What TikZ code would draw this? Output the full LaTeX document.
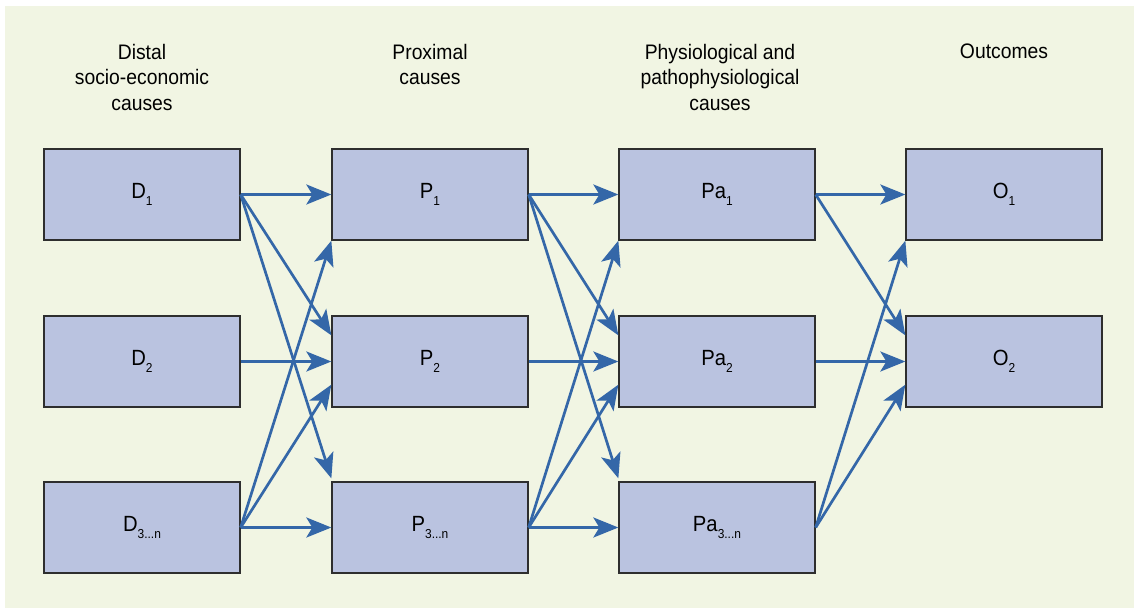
\documentclass[tikz,border=0pt]{standalone}
\usepackage{fontspec}
\setmainfont{Liberation Sans}[FakeStretch=0.92]
\usetikzlibrary{arrows.meta,positioning}
\definecolor{bgpanel}{HTML}{F1F5E3}
\definecolor{boxfill}{HTML}{BAC3E0}
\definecolor{boxline}{HTML}{2E2E2E}
\definecolor{flow}{HTML}{3467A8}
\newcommand{\lowidx}[1]{\raisebox{-7pt}{\fontsize{13}{13}\selectfont #1}}
\tikzset{
  stage/.style={draw=boxline, line width=1.3pt, fill=boxfill,
    minimum width=196pt, minimum height=91pt, inner sep=0pt,
    font=\fontsize{22}{24}\selectfont},
  heading/.style={anchor=north, align=center, inner sep=0pt,
    font=\fontsize{21}{25.5}\selectfont},
  link/.style={draw=flow, line width=2.7pt,
    -{Stealth[length=25pt, width=20pt, inset=6pt]}}
}
\begin{document}
\begin{tikzpicture}[x=1pt, y=-1pt]
  \useasboundingbox (0,0) rectangle (1134,608);
  \fill[white] (0,0) rectangle (1134,608);
  \fill[bgpanel] (5,6) rectangle (1134,608);

  % column headings
  \node[heading] (h1) at (142,44) {Distal\\socio-economic\\causes};
  \node[heading] (h2) at (430,44) {Proximal\\causes};
  \node[heading] (h3) at (720,44) {Physiological and\\pathophysiological\\causes};
  \node[heading] (h4) at (1004,44) {Outcomes};

  % boxes
  \node[stage] (D1) at (142,194.5) {D\lowidx{1}};
  \node[stage] (D2) at (142,361.5) {D\lowidx{2}};
  \node[stage] (D3) at (142,527.5) {D\lowidx{3...n}};
  \node[stage] (P1) at (430,194.5) {P\lowidx{1}};
  \node[stage] (P2) at (430,361.5) {P\lowidx{2}};
  \node[stage] (P3) at (430,527.5) {P\lowidx{3...n}};
  \node[stage] (A1) at (717,194.5) {Pa\lowidx{1}};
  \node[stage] (A2) at (717,361.5) {Pa\lowidx{2}};
  \node[stage] (A3) at (717,527.5) {Pa\lowidx{3...n}};
  \node[stage] (O1) at (1004,194.5) {O\lowidx{1}};
  \node[stage] (O2) at (1004,361.5) {O\lowidx{2}};

  % distal -> proximal
  \draw[link] (D1.east) -- (P1.west);
  \draw[link] (D1.east) -- ([yshift=-20pt]P2.north west);
  \draw[link] (D1.east) -- ([yshift=3pt]P3.north west);
  \draw[link] (D2.east) -- (P2.west);
  \draw[link] (D3.east) -- (P1.south west);
  \draw[link] (D3.east) -- ([yshift=23pt]P2.south west);
  \draw[link] (D3.east) -- (P3.west);

  % proximal -> physiological
  \draw[link] (P1.east) -- (A1.west);
  \draw[link] (P1.east) -- ([yshift=-20pt]A2.north west);
  \draw[link] (P1.east) -- ([yshift=3pt]A3.north west);
  \draw[link] (P2.east) -- (A2.west);
  \draw[link] (P3.east) -- (A1.south west);
  \draw[link] (P3.east) -- ([yshift=23pt]A2.south west);
  \draw[link] (P3.east) -- (A3.west);

  % physiological -> outcomes
  \draw[link] (A1.east) -- (O1.west);
  \draw[link] (A1.east) -- ([yshift=-20pt]O2.north west);
  \draw[link] (A2.east) -- (O2.west);
  \draw[link] (A3.east) -- (O1.south west);
  \draw[link] (A3.east) -- ([yshift=23pt]O2.south west);
\end{tikzpicture}
\end{document}
